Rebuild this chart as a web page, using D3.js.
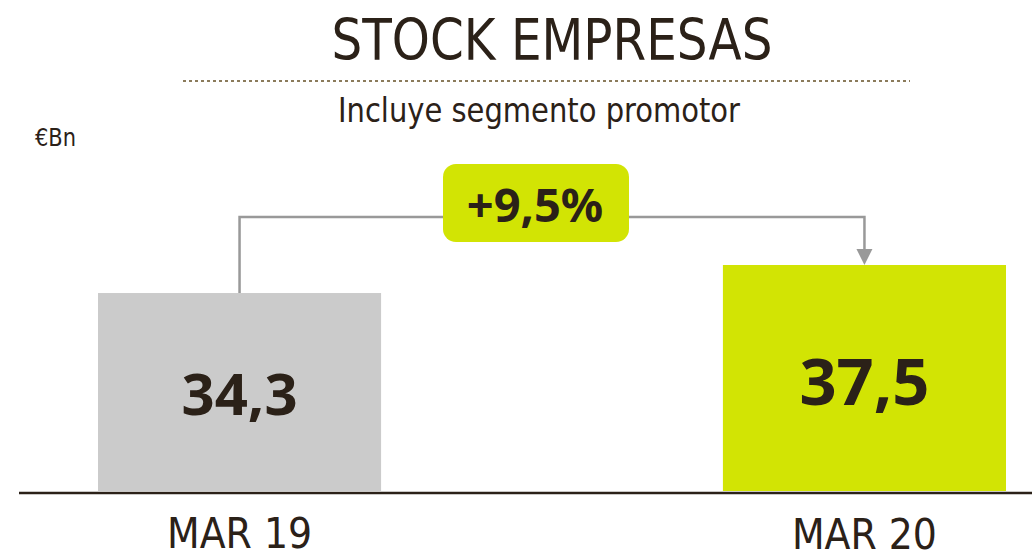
<!DOCTYPE html>
<html>
<head>
<meta charset="utf-8">
<script src="https://cdn.jsdelivr.net/npm/d3@7"></script>
<style>
  html, body { margin: 0; padding: 0; background: #fff; }
  svg { display: block; }
</style>
</head>
<body>
<svg id="chart" width="1032" height="559"></svg>
<script>
// chart data
var categories = ['MAR 19', 'MAR 20'];
var values = [34.3, 37.5];
var valueLabels = ['34,3', '37,5'];
var barColors = ['#cbcbcb', '#d2e404'];
var growthLabel = '+9,5%';

var ink = '#2b2118';
var condensed = '"DejaVu Sans Condensed", "Liberation Sans Narrow", sans-serif';
var boldFont = '"Noto Sans", "Open Sans", sans-serif';

var svg = d3.select('#chart');

// scales
var x = d3.scaleBand()
    .domain(categories)
    .range([98, 1006])
    .paddingInner(0.547)
    .paddingOuter(0);

var y = d3.scaleLinear()
    .domain([11.7, 37.5])
    .range([491, 265]);

// title + dotted rule + subtitle
svg.append('text')
    .attr('x', 552).attr('y', 60)
    .attr('text-anchor', 'middle')
    .attr('font-family', condensed)
    .attr('font-size', 57)
    .attr('textLength', 441)
    .attr('lengthAdjust', 'spacingAndGlyphs')
    .attr('fill', ink)
    .text('STOCK EMPRESAS');

svg.append('line')
    .attr('x1', 183).attr('x2', 910)
    .attr('y1', 81).attr('y2', 81)
    .attr('stroke', '#8b7b5b')
    .attr('stroke-width', 2)
    .attr('stroke-dasharray', '3,3');

svg.append('text')
    .attr('x', 539).attr('y', 122)
    .attr('text-anchor', 'middle')
    .attr('font-family', condensed)
    .attr('font-size', 34)
    .attr('textLength', 402)
    .attr('lengthAdjust', 'spacingAndGlyphs')
    .attr('fill', ink)
    .text('Incluye segmento promotor');

svg.append('text')
    .attr('x', 35).attr('y', 146)
    .attr('font-family', condensed)
    .attr('font-size', 24)
    .attr('textLength', 41)
    .attr('lengthAdjust', 'spacingAndGlyphs')
    .attr('fill', ink)
    .text('€Bn');

// bars
var bars = categories.map(function (c, i) {
    return { cat: c, value: values[i], label: valueLabels[i], color: barColors[i] };
});

svg.selectAll('rect.bar')
    .data(bars)
    .enter().append('rect')
    .attr('class', 'bar')
    .attr('x', function (d) { return x(d.cat); })
    .attr('y', function (d) { return y(d.value); })
    .attr('width', x.bandwidth())
    .attr('height', function (d) { return y.range()[0] - y(d.value); })
    .attr('fill', function (d) { return d.color; });

svg.selectAll('text.val')
    .data(bars)
    .enter().append('text')
    .attr('class', 'val')
    .attr('x', function (d) { return x(d.cat) + x.bandwidth() / 2; })
    .attr('y', function (d, i) { return i === 0 ? 415 : 405; })
    .attr('text-anchor', 'middle')
    .attr('font-family', boldFont)
    .attr('font-weight', 'bold')
    .attr('font-size', function (d, i) { return i === 0 ? 58 : 65; })
    .attr('fill', ink)
    .text(function (d) { return d.label; });

// baseline
svg.append('line')
    .attr('x1', 19).attr('x2', 1032)
    .attr('y1', 493).attr('y2', 493)
    .attr('stroke', ink)
    .attr('stroke-width', 2.5);

// category labels
svg.selectAll('text.cat')
    .data(categories)
    .enter().append('text')
    .attr('class', 'cat')
    .attr('x', function (d) { return x(d) + x.bandwidth() / 2; })
    .attr('y', function (d, i) { return i === 0 ? 548 : 549; })
    .attr('text-anchor', 'middle')
    .attr('font-family', condensed)
    .attr('font-size', 43)
    .attr('textLength', 145)
    .attr('lengthAdjust', 'spacingAndGlyphs')
    .attr('fill', ink)
    .text(function (d) { return d; });

// growth connector
var x0 = x(categories[0]) + x.bandwidth() / 2;
var x1 = x(categories[1]) + x.bandwidth() / 2;
var yTop = 217;

svg.append('path')
    .attr('d', 'M' + x0 + ',' + y(values[0]) + 'V' + yTop + 'H' + x1 + 'V' + (y(values[1]) - 14))
    .attr('fill', 'none')
    .attr('stroke', '#999999')
    .attr('stroke-width', 2.5);

svg.append('path')
    .attr('d', 'M' + (x1 - 8) + ',' + (y(values[1]) - 16) + 'L' + (x1 + 8) + ',' + (y(values[1]) - 16) + 'L' + x1 + ',' + y(values[1]) + 'Z')
    .attr('fill', '#999999');

// badge
svg.append('rect')
    .attr('x', 443).attr('y', 164)
    .attr('width', 186).attr('height', 78)
    .attr('rx', 13).attr('ry', 13)
    .attr('fill', '#d2e404');

svg.append('text')
    .attr('x', 535).attr('y', 222)
    .attr('text-anchor', 'middle')
    .attr('font-family', boldFont)
    .attr('font-weight', 'bold')
    .attr('font-size', 47)
    .attr('fill', ink)
    .text(growthLabel);
</script>
</body>
</html>
